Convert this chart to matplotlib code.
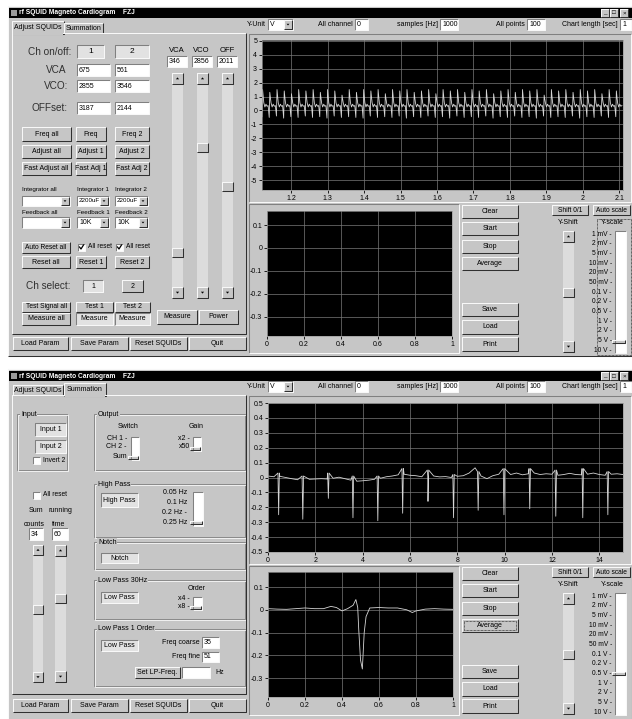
import numpy as np
import matplotlib.pyplot as plt
from matplotlib.patches import Rectangle, Polygon

plt.rcParams['font.family'] = ['Liberation Sans', 'DejaVu Sans']

W, H = 632, 719
BG = '#c6c6c6'
LIGHT = '#f8f8f8'
SHADOW = '#808080'
DARK = '#303030'
DITHER = '#e2e2e2'
TRACE = '#d6d6d6'

# --- window 1: raw SQUID channel, 50 Hz pickup ---
w1_period = 0.0198
w1_start = 1.12
w1_peaks = [1.5, 1.3, 1.5, 1.4, 1.2, 1.5, 1.4, 1.5, 1.3, 1.5,
            1.4, 1.1, 1.5, 1.3, 1.5, 1.4, 1.5, 1.2, 1.5, 1.4,
            1.5, 1.3, 1.4, 1.5, 1.2, 1.5, 1.4, 1.5, 1.3, 1.5,
            1.4, 1.5, 1.2, 1.4, 1.5, 1.3, 1.5, 1.4, 1.5, 1.1,
            1.5, 1.4, 1.5, 1.3, 1.5, 1.4, 1.5, 1.2, 1.5, 1.4]
w1_troughs = [-0.45, -0.5, -0.4, -0.55, -0.45, -0.5, -0.4, -0.5, -0.45, -0.55,
              -0.4, -0.5, -0.45, -0.5, -0.55, -0.4, -0.5, -0.45, -0.5, -0.4,
              -0.55, -0.45, -0.5, -0.4, -0.5, -0.45, -0.55, -0.4, -0.5, -0.45,
              -0.5, -0.4, -0.55, -0.45, -0.5, -0.4, -0.5, -0.45, -0.55, -0.4,
              -0.5, -0.45, -0.5, -0.4, -0.55, -0.45, -0.5, -0.4, -0.5, -0.45]
# position inside one period (fraction) and the level between peak and trough
w1_cycle_pos = [0.0, 0.08, 0.25, 0.4, 0.55, 0.7, 0.85]
w1_cycle_mid = [0.55, 0.25, 0.45, 0.3, 0.35]

# --- window 2: summed channel, 15 s strip ---
w2_base = [0.010, 0.005, 0.008, 0.000, -0.008, -0.015, -0.018, -0.012, -0.010, -0.008,
           -0.010, -0.005, 0.002, -0.008, -0.018, -0.025, -0.022, -0.018, -0.012, -0.005,
           0.005, 0.010, 0.018, 0.022, 0.015, 0.012, 0.005, 0.008, 0.010, 0.004,
           0.006, 0.000, 0.008, 0.012, 0.030, 0.065, 0.010, -0.008, 0.012, 0.022,
           0.028, 0.020, 0.030, 0.018, 0.025, 0.030, 0.020, 0.025, 0.022, 0.015,
           0.020, 0.028, 0.020, 0.018, 0.022, 0.030, 0.020, 0.015, 0.022, 0.025,
           0.020]
w2_beat_t = [0.45, 1.47, 2.55, 3.59, 4.64, 5.69, 6.76, 7.84, 8.88, 9.97, 11.06, 12.16, 13.30, 14.36]
w2_beat_min = [-0.25, -0.28, -0.14, -0.27, -0.29, -0.24, -0.16, -0.27, -0.22, -0.25, -0.21, -0.26, -0.27, -0.25]
w2_beat_top = [0.03, 0.01, 0.03, 0.01, 0.01, 0.06, 0.05, 0.02, 0.04, 0.06, 0.06, 0.05, 0.06, 0.04]

# averaged beat
w2_avg_t = [0.0, 0.05, 0.10, 0.15, 0.20, 0.25, 0.30, 0.34, 0.37, 0.40, 0.43, 0.46, 0.475, 0.485,
            0.49, 0.50, 0.51, 0.515, 0.52, 0.53, 0.55, 0.60, 0.65, 0.70, 0.75, 0.78, 0.80, 0.85,
            0.90, 0.95, 1.0]
w2_avg_v = [0.005, 0.003, 0.002, 0.005, 0.008, 0.005, 0.005, 0.015, 0.010, -0.005, 0.005, 0.020,
            0.045, 0.010, -0.080, -0.220, -0.260, -0.180, -0.100, -0.030, 0.008, 0.010, 0.008,
            0.008, 0.000, -0.012, -0.005, 0.003, 0.005, 0.003, 0.002]

yscale_labels = ['1 mV', '2 mV', '5 mV', '10 mV', '20 mV', '50 mV', '0.1 V', '0.2 V',
                 '0.5 V', '1 V', '2 V', '5 V', '10 V']

fig = plt.figure(figsize=(W / 100, H / 100), dpi=100)
fig.patch.set_facecolor('white')
ax = fig.add_axes([0, 0, 1, 1])
ax.set_xlim(0, W)
ax.set_ylim(H, 0)
ax.axis('off')


def box(x0, y0, x1, y1, fc, z=1):
    ax.add_patch(Rectangle((x0, y0), x1 - x0, y1 - y0, facecolor=fc, edgecolor='none', zorder=z))


def edge(x0, y0, x1, y1, raised=True, z=3):
    tl, br = (LIGHT, DARK) if raised else (SHADOW, LIGHT)
    ax.plot([x0, x0, x1], [y1, y0, y0], color=tl, lw=0.75, zorder=z, solid_capstyle='butt')
    ax.plot([x0, x1, x1], [y1, y1, y0], color=br, lw=0.75, zorder=z, solid_capstyle='butt')


def txt(x, y, s, fs=5, ha='left', color='black', **kw):
    ax.text(x, y, s, fontsize=fs, ha=ha, va='center', color=color, zorder=7, **kw)


def button(x0, y0, x1, y1, s='', pressed=False, fs=5, focus=False):
    box(x0, y0, x1, y1, DITHER if pressed else BG, z=2)
    edge(x0, y0, x1, y1, raised=not pressed)
    if focus:
        ax.add_patch(Rectangle((x0 + 2, y0 + 2), x1 - x0 - 4, y1 - y0 - 4, fill=False,
                               ec='black', lw=0.5, ls=(0, (1, 1)), zorder=4))
    if s:
        txt((x0 + x1) / 2, (y0 + y1) / 2, s, fs, ha='center')


def textbox(x0, y0, x1, y1, s='', fs=5):
    box(x0, y0, x1, y1, 'white', z=2)
    edge(x0, y0, x1, y1, raised=False)
    if s:
        txt(x0 + 2, (y0 + y1) / 2, s, fs)


def tri(cx, cy, up, s=1.6):
    if up:
        pts = [(cx - s, cy + s * 0.5), (cx + s, cy + s * 0.5), (cx, cy - s * 0.7)]
    else:
        pts = [(cx - s, cy - s * 0.5), (cx + s, cy - s * 0.5), (cx, cy + s * 0.7)]
    ax.add_patch(Polygon(pts, closed=True, fc='black', ec='none', zorder=6))


def combo(x0, y0, x1, y1, s='', fs=5):
    textbox(x0, y0, x1, y1, s, fs)
    button(x1 - 9, y0 + 1, x1 - 1, y1 - 1)
    tri(x1 - 5, (y0 + y1) / 2, False, 1.4)


def vscroll(x0, y0, x1, y1, ty):
    box(x0, y0, x1, y1, '#dcdcdc', z=2)
    s = x1 - x0
    button(x0, y0, x1, y0 + s)
    tri((x0 + x1) / 2, y0 + s / 2, True)
    button(x0, y1 - s, x1, y1)
    tri((x0 + x1) / 2, y1 - s / 2, False)
    button(x0, ty, x1, ty + 9)


def track(x0, y0, x1, y1, ty):
    box(x0, y0, x1, y1, 'white', z=2)
    edge(x0, y0, x1, y1, raised=False)
    button(x0 - 3, ty - 1.5, x1 - 1, ty + 1.5)


def group(x0, y0, x1, y1, title):
    ax.add_patch(Rectangle((x0, y0), x1 - x0, y1 - y0, fill=False, ec=SHADOW, lw=0.6, zorder=2))
    ax.add_patch(Rectangle((x0 + 1, y0 + 1), x1 - x0, y1 - y0, fill=False, ec=LIGHT, lw=0.6, zorder=2))
    ax.text(x0 + 4, y0, title, fontsize=5, ha='left', va='center', zorder=7,
            bbox=dict(fc=BG, ec='none', pad=0.5))


def checkbox(x, y, s, checked=False):
    box(x, y - 3.5, x + 7, y + 3.5, 'white', z=2)
    edge(x, y - 3.5, x + 7, y + 3.5, raised=False)
    if checked:
        ax.plot([x + 1.5, x + 3, x + 5.5], [y, y + 2, y - 2], color='black', lw=0.9, zorder=6)
    txt(x + 10, y, s, 4.8)


def window(y0, y1):
    box(8, y0, 632, y1, BG, z=1)
    edge(8, y0, 632, y1, raised=True)
    box(9, y0 + 2, 632, y0 + 12, 'black', z=2)
    box(11, y0 + 4, 17, y0 + 10, '#9a9a9a', z=3)
    txt(19, y0 + 7, 'rf SQUID Magneto Cardiogram    FZJ', 4.8, color='white', weight='bold')
    for bx, g in [(601, '_'), (610, '□'), (620, '×')]:
        button(bx, y0 + 3, bx + 8, y0 + 11, g, fs=4.5)


def chart(x0, y0, x1, y1, xlim, ylim, xt, xl, yt, yl):
    a = fig.add_axes([x0 / W, 1 - y1 / H, (x1 - x0) / W, (y1 - y0) / H])
    a.set_facecolor('black')
    a.set_xlim(*xlim)
    a.set_ylim(*ylim)
    a.set_xticks(xt)
    a.set_xticklabels(xl)
    a.set_yticks(yt)
    a.set_yticklabels(yl)
    a.tick_params(labelsize=5, length=2.5, width=0.6, pad=1, colors='black')
    a.grid(True, color='#7a7a7a', lw=0.5)
    for sp in a.spines.values():
        sp.set_color('#9a9a9a')
        sp.set_linewidth(0.5)
    return a


def right_side(dy, yscale_y, average_focus):
    # tool bar
    y0, y1 = 19 + dy, 30 + dy
    ym = (y0 + y1) / 2
    txt(266, ym, 'Y-Unit', ha='right')
    combo(268, y0, 293, y1, 'V')
    txt(353, ym, 'All channel', ha='right')
    textbox(355, y0, 368, y1, '0')
    txt(438, ym, 'samples [Hz]', ha='right')
    textbox(440, y0, 458, y1, '1000')
    txt(525, ym, 'All points', ha='right')
    textbox(527, y0, 545, y1, '100')
    txt(618, ym, 'Chart length [sec]', ha='right')
    textbox(620, y0, 632, y1, '1')
    # chart frames
    edge(249, 34 + dy, 631, 202 + dy, raised=False)
    edge(249, 204 + dy, 459, 353 + dy, raised=False)
    # buttons
    for s, a, b in [('Clear', 205, 218), ('Start', 222, 235), ('Stop', 240, 253),
                    ('Average', 257, 270), ('Save', 303, 316), ('Load', 320, 334),
                    ('Print', 337, 351)]:
        button(462, a + dy, 518, b + dy, s, focus=(s == 'Average' and average_focus))
    button(552, 205 + dy, 588, 215 + dy, 'Shift 0/1', fs=4.8)
    button(593, 205 + dy, 630, 215 + dy, 'Auto scale', fs=4.8)
    txt(568, 223 + dy, 'Y-Shift', ha='center')
    txt(612, 223 + dy, 'Y-scale', ha='center')
    vscroll(563, 231 + dy, 574, 352 + dy, 288 + dy)
    for i, s in enumerate(yscale_labels):
        txt(612, 234 + dy + i * 9.7, s + ' -', 4.8, ha='right')
    track(615, 231 + dy, 626, 353 + dy, yscale_y + dy)
    if not average_focus:
        ax.add_patch(Rectangle((597, 219), 34, 136, fill=False, ec='black', lw=0.5,
                               ls=(0, (1, 1)), zorder=4))


def bottom_buttons(dy):
    for s, a, b in [('Load Param', 13, 68), ('Save Param', 71, 128),
                    ('Reset SQUIDs', 130, 187), ('Quit', 189, 246)]:
        button(a, 337 + dy, b, 350 + dy, s)


# ================= window 1 : Adjust SQUIDs =================
window(6, 356)
box(12, 21, 64, 34, BG, z=2)
edge(12, 21, 64, 34)
txt(38, 27.5, 'Adjust SQUIDs', ha='center')
button(64, 23, 103, 33, 'Summation')
edge(12, 33, 246, 334)
box(13, 32, 63, 35, BG, z=4)

txt(71, 52, 'Ch on/off:', 7.2, ha='right', color='#303030')
button(77, 45, 104, 58, '1', pressed=True, fs=6)
button(115, 45, 149, 58, '2', pressed=True, fs=6)
txt(66, 70, 'VCA', 7.2, ha='right', color='#303030')
textbox(77, 64, 110, 76, '675')
textbox(115, 64, 149, 76, '561')
txt(68, 86, 'VCO:', 7.2, ha='right', color='#303030')
textbox(77, 80, 110, 92, '2855')
textbox(115, 80, 149, 92, '3546')
txt(68, 108, 'OFFset:', 7.2, ha='right', color='#303030')
textbox(77, 102, 110, 114, '3187')
textbox(115, 102, 149, 114, '2144')

for (a, b), names in zip([(127, 141), (145, 158), (162, 175)],
                         [('Freq all', 'Freq', 'Freq 2'),
                          ('Adjust all', 'Adjust 1', 'Adjust 2'),
                          ('Fast Adjust all', 'Fast Adj 1', 'Fast Adj 2')]):
    button(22, a, 71, b, names[0])
    button(76, a, 106, b, names[1])
    button(115, a, 149, b, names[2])

for x, s in [(22, 'Integrator all'), (77, 'Integrator 1'), (115, 'Integrator 2')]:
    txt(x, 190, s, 4.5)
combo(22, 196, 70, 206)
combo(77, 196, 109, 206, '2200uF', 4.5)
combo(115, 196, 148, 206, '2200uF', 4.5)
for x, s in [(22, 'Feedback all'), (77, 'Feedback 1'), (115, 'Feedback 2')]:
    txt(x, 213, s, 4.5)
combo(22, 217, 70, 228)
combo(77, 217, 109, 228, '10K')
combo(115, 217, 148, 228, '10K')

button(22, 242, 70, 253, 'Auto Reset all', fs=4.8)
checkbox(78, 247, 'All reset', True)
checkbox(116, 247, 'All reset', True)
button(22, 256, 70, 268, 'Reset all')
button(76, 256, 106, 268, 'Reset 1')
button(115, 256, 149, 268, 'Reset 2')

txt(71, 286, 'Ch select:', 7.2, ha='right', color='#303030')
button(83, 280, 103, 292, '1', pressed=True)
button(122, 280, 143, 292, '2')

button(22, 302, 70, 312, 'Test Signal all', fs=4.8)
button(76, 302, 113, 312, 'Test 1')
button(115, 302, 150, 312, 'Test 2')
button(22, 313, 70, 325, 'Measure all')
button(76, 313, 113, 325, 'Measure', pressed=True)
button(115, 313, 150, 325, 'Measure', pressed=True)

for x, s in [(177, 'VCA'), (201, 'VCO'), (227, 'OFF')]:
    txt(x, 50, s, 5.5, ha='center')
textbox(167, 56, 187, 67, '346')
textbox(192, 56, 212, 67, '2856')
textbox(217, 56, 237, 67, '2011')
vscroll(172, 73, 183, 298, 248)
vscroll(197, 73, 208, 298, 143)
vscroll(222, 73, 233, 298, 182)
button(157, 310, 197, 324, 'Measure')
button(199, 310, 238, 324, 'Power')
bottom_buttons(0)
right_side(0, 341, False)

# 50 Hz channel trace
t1, v1 = [], []
for i in range(len(w1_peaks)):
    base = w1_start + i * w1_period
    levels = [w1_troughs[i], w1_peaks[i]] + w1_cycle_mid
    for f, v in zip(w1_cycle_pos, levels):
        t1.append(base + f * w1_period)
        v1.append(v)
c1 = chart(262, 40, 623, 190, (1.12, 2.11), (-5.7, 5.05),
           [1.2, 1.3, 1.4, 1.5, 1.6, 1.7, 1.8, 1.9, 2.0, 2.1],
           ['1.2', '1.3', '1.4', '1.5', '1.6', '1.7', '1.8', '1.9', '2', '2.1'],
           list(range(-5, 6)), [str(k) for k in range(-5, 6)])
c1.plot(t1, v1, color=TRACE, lw=0.6)

chart(267, 211, 452, 336, (0, 1), (-0.383, 0.161),
      [0, 0.2, 0.4, 0.6, 0.8, 1.0], ['0', '0.2', '0.4', '0.6', '0.8', '1'],
      [-0.3, -0.2, -0.1, 0, 0.1], ['-0.3', '-0.2', '-0.1', '0', '0.1'])

# ================= window 2 : Summation =================
D = 362
window(369, 725)
button(13, 385, 63, 395, 'Adjust SQUIDs')
box(64, 383, 106, 396, BG, z=2)
edge(64, 383, 106, 396)
txt(85, 389.5, 'Summation', ha='center')
edge(12, 395, 246, 694)
box(65, 394, 105, 397, BG, z=4)

group(17, 414, 67, 470, 'Input')
button(35, 423, 66, 436, 'Input 1', pressed=True)
button(35, 440, 66, 453, 'Input 2', pressed=True)
checkbox(33, 460, 'Invert 2')

group(94, 414, 245, 470, 'Output')
txt(128, 427, 'Switch', ha='center')
txt(196, 427, 'Gain', ha='center')
for y, s in [(438, 'CH 1 -'), (447, 'CH 2 -'), (457, 'Sum')]:
    txt(127, y, s, ha='right')
track(131, 437, 139, 460, 457)
for y, s in [(438, 'x2 -'), (447, 'x50')]:
    txt(190, y, s, ha='right')
track(193, 437, 201, 451, 448)

group(94, 484, 245, 537, 'High Pass')
button(101, 493, 138, 507, 'High Pass', pressed=True)
for y, s in [(493, '0.05 Hz'), (503, '0.1 Hz'), (513, '0.2 Hz -'), (523, '0.25 Hz')]:
    txt(187, y, s, ha='right')
track(193, 492, 203, 526, 522)

checkbox(33, 495, 'All reset')
txt(36, 511, 'Sum', ha='center')
txt(60, 511, 'running', ha='center')
txt(34, 524, 'counts', ha='center')
txt(59, 524, 'time', ha='center')
textbox(29, 528, 43, 540, '34')
textbox(52, 528, 68, 540, '60')
vscroll(33, 545, 43, 682, 605)
vscroll(55, 545, 66, 682, 594)

group(94, 542, 245, 569, 'Notch')
button(101, 553, 138, 563, 'Notch', pressed=True)

group(94, 580, 245, 619, 'Low Pass 30Hz')
button(101, 592, 138, 603, 'Low Pass', pressed=True)
txt(197, 589, 'Order', ha='center')
txt(190, 598, 'x4 -', ha='right')
txt(190, 607, 'x8 -', ha='right')
track(193, 597, 202, 610, 607)

group(94, 629, 245, 686, 'Low Pass 1 Order')
button(101, 640, 138, 651, 'Low Pass', pressed=True)
txt(200, 643, 'Freq coarse', ha='right')
textbox(202, 637, 219, 648, '35')
txt(200, 657, 'Freq fine', ha='right')
textbox(202, 652, 219, 662, '51')
button(135, 667, 180, 678, 'Set LP-Freq.')
textbox(182, 667, 210, 678)
txt(215, 672, 'Hz')
bottom_buttons(D)
right_side(D, 311, True)

# strip chart: baseline samples plus the beats
base_t = np.linspace(0, 15, len(w2_base))
pts = list(zip(base_t, w2_base))
for t, lo, hi in zip(w2_beat_t, w2_beat_min, w2_beat_top):
    pts += [(t - 0.03, hi), (t, lo), (t + 0.03, hi)]
pts.sort()
c2 = chart(268, 403, 623, 552, (0, 15), (-0.5, 0.5),
           [0, 2, 4, 6, 8, 10, 12, 14], ['0', '2', '4', '6', '8', '10', '12', '14'],
           [-0.5, -0.4, -0.3, -0.2, -0.1, 0, 0.1, 0.2, 0.3, 0.4, 0.5],
           ['-0.5', '-0.4', '-0.3', '-0.2', '-0.1', '0', '0.1', '0.2', '0.3', '0.4', '0.5'])
c2.plot([p[0] for p in pts], [p[1] for p in pts], color=TRACE, lw=0.6)

c3 = chart(268, 572, 453, 697, (0, 1), (-0.383, 0.166),
           [0, 0.2, 0.4, 0.6, 0.8, 1.0], ['0', '0.2', '0.4', '0.6', '0.8', '1'],
           [-0.3, -0.2, -0.1, 0, 0.1], ['-0.3', '-0.2', '-0.1', '0', '0.1'])
c3.plot(w2_avg_t, w2_avg_v, color=TRACE, lw=0.6)

fig.savefig('out.png', dpi=100, facecolor='white')
